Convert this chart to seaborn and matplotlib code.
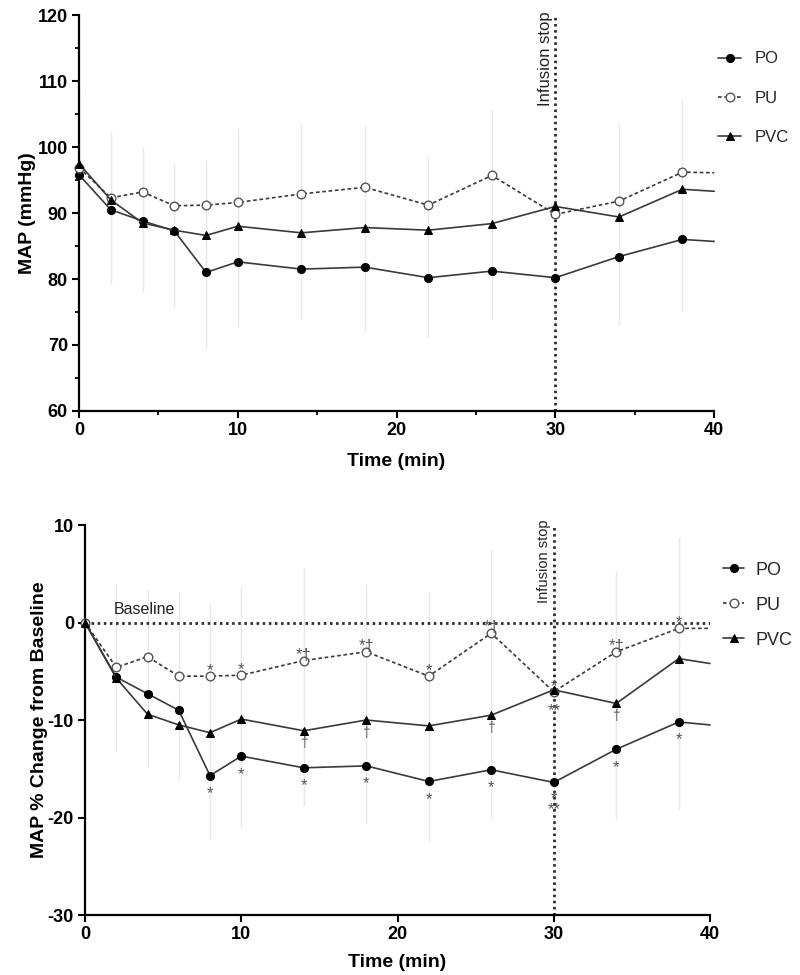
"""
MAP over time for PO / PU / PVC groups: absolute values and % change from baseline
"""

import numpy as np
import matplotlib
matplotlib.use('Agg')
import matplotlib.pyplot as plt
from matplotlib.ticker import MultipleLocator
import seaborn as sns

sns.set_style('ticks')
plt.rcParams['font.family'] = ['Liberation Sans', 'DejaVu Sans']
plt.rcParams['axes.unicode_minus'] = False

# ---- data ----
time = [0, 2, 4, 6, 8, 10, 14, 18, 22, 26, 30, 34, 38, 40]
n_marked = 13  # last point (40) only continues the line, no marker

map_po = [95.8, 90.5, 88.8, 87.3, 81.0, 82.6, 81.5, 81.8, 80.2, 81.2, 80.2, 83.4, 86.0, 85.7]
map_pu = [96.9, 92.3, 93.2, 91.1, 91.2, 91.6, 92.9, 93.9, 91.2, 95.7, 89.8, 91.8, 96.2, 96.1]
map_pvc = [97.5, 92.0, 88.5, 87.4, 86.6, 88.0, 87.0, 87.8, 87.4, 88.4, 91.0, 89.4, 93.6, 93.3]

# SD bars (outer ends of the grey whiskers)
err_time = [0, 2, 4, 6, 8, 10, 14, 18, 22, 26, 30, 34, 38]
map_err_hi = [108.5, 102.3, 100.0, 97.4, 98.0, 102.9, 103.7, 103.3, 98.6, 105.8, 102.0, 103.6, 107.1]
map_err_lo = [86.0, 79.3, 78.0, 75.7, 69.4, 72.8, 73.9, 72.0, 71.2, 73.8, 72.0, 72.9, 75.2]

pct_po = [0, -5.6, -7.3, -9.0, -15.7, -13.7, -14.9, -14.7, -16.3, -15.1, -16.4, -13.0, -10.2, -10.5]
pct_pu = [0, -4.6, -3.5, -5.5, -5.5, -5.4, -3.9, -3.0, -5.5, -1.1, -7.1, -3.0, -0.6, -0.6]
pct_pvc = [0, -5.7, -9.4, -10.5, -11.3, -9.9, -11.1, -10.0, -10.6, -9.5, -6.9, -8.3, -3.7, -4.2]

pct_err_time = [2, 4, 6, 8, 10, 14, 18, 22, 26, 30, 34, 38]
pct_err_hi = [4.0, 3.4, 3.1, 1.9, 3.7, 5.7, 4.0, 3.2, 7.5, 6.0, 5.3, 8.8]
pct_err_lo = [-13.3, -14.9, -16.1, -22.3, -21.0, -18.8, -20.7, -22.5, -20.2, -21.0, -20.1, -19.2]

# significance marks (time, symbol)
pu_marks = [(8, '*'), (10, '*'), (14, '*†'), (18, '*†'), (22, '*'), (26, '*†'),
            (30, '*'), (34, '*†'), (38, '*')]
pvc_daggers = [(14, '†'), (18, '†'), (26, '†'), (34, '†')]
pvc_stars = [(30, '**')]
po_marks = [(8, '*'), (10, '*'), (14, '*'), (18, '*'), (22, '*'), (26, '*'),
            (34, '*'), (38, '*')]
po_stacked = [(30, '*\n**')]

groups = ['PO', 'PU', 'PVC']
infusion_stop = 30

LINE_COL = '#3a3a3a'
styles = {
    'PO': dict(marker='o', markersize=5.8, markerfacecolor='black', markeredgecolor='black',
               linestyle='-'),
    'PU': dict(marker='o', markersize=6.2, markerfacecolor='white', markeredgecolor='#555555',
               markeredgewidth=1.0, linestyle=(0, (2.2, 1.6))),
    'PVC': dict(marker='^', markersize=5.5, markerfacecolor='black', markeredgecolor='black',
                linestyle='-'),
}


def draw_panel(ax, series, err_t, err_hi, err_lo):
    ax.vlines(err_t, err_lo, err_hi, color='#e8e8e8', linewidth=1.0, zorder=1)
    handles = []
    for name, vals in zip(groups, series):
        sns.lineplot(x=time, y=vals, ax=ax, color=LINE_COL, linewidth=1.2,
                     markevery=slice(0, n_marked), clip_on=False, zorder=3,
                     **styles[name])
        handles.append(ax.lines[-1])
    ax.axvline(infusion_stop, color='#2a2a2a', linewidth=2.0,
               linestyle=(0, (0.9, 1.3)), zorder=2)
    for s in ['top', 'right']:
        ax.spines[s].set_visible(False)
    for s in ['left', 'bottom']:
        ax.spines[s].set_linewidth(1.6)
        ax.spines[s].set_color('black')
    ax.tick_params(axis='both', which='major', length=5, width=1.5, labelsize=13,
                   color='black', labelcolor='black', pad=3)
    ax.tick_params(axis='both', which='minor', length=3, width=1.3, color='black')
    for lab in ax.get_xticklabels() + ax.get_yticklabels():
        lab.set_fontweight('bold')
    return handles


fig = plt.figure(figsize=(8, 9.75), dpi=100)

# ---- top panel: absolute MAP ----
ax1 = fig.add_axes([0.09875, 0.5785, 0.794, 0.406])
ax1.set_xlim(0, 40)
ax1.set_ylim(60, 120)
ax1.xaxis.set_major_locator(MultipleLocator(10))
ax1.xaxis.set_minor_locator(MultipleLocator(5))
ax1.yaxis.set_major_locator(MultipleLocator(10))
ax1.yaxis.set_minor_locator(MultipleLocator(5))
h1 = draw_panel(ax1, [map_po, map_pu, map_pvc], err_time, map_err_hi, map_err_lo)
ax1.set_xlabel('Time (min)', fontsize=14, fontweight='bold', labelpad=10, color='black')
ax1.set_ylabel('MAP (mmHg)', fontsize=14, fontweight='bold', labelpad=1, color='black')
ax1.text(infusion_stop - 0.15, 120.6, 'Infusion stop', rotation=90, ha='right', va='top',
         fontsize=12, color='#222222')
ax1.legend(h1, groups, loc='upper left', bbox_to_anchor=(0.996, 0.925), frameon=False,
           borderaxespad=0, fontsize=12, labelspacing=1.45, handlelength=1.35,
           handletextpad=0.8)

# ---- bottom panel: % change from baseline ----
ax2 = fig.add_axes([0.10625, 0.0615, 0.78125, 0.4])
ax2.set_xlim(0, 40)
ax2.set_ylim(-30, 10)
ax2.xaxis.set_major_locator(MultipleLocator(10))
ax2.yaxis.set_major_locator(MultipleLocator(10))
h2 = draw_panel(ax2, [pct_po, pct_pu, pct_pvc], pct_err_time, pct_err_hi, pct_err_lo)
ax2.axhline(0, color='#2a2a2a', linewidth=2.0, linestyle=(0, (0.9, 1.3)), zorder=2)
ax2.text(1.85, 0.6, 'Baseline', ha='left', va='bottom', fontsize=11.5, color='#222222')
ax2.set_xlabel('Time (min)', fontsize=14, fontweight='bold', labelpad=8, color='black')
ax2.set_ylabel('MAP % Change from Baseline', fontsize=14, fontweight='bold', labelpad=0,
               color='black')
ax2.text(infusion_stop - 0.2, 10.6, 'Infusion stop', rotation=90, ha='right', va='top',
         fontsize=10.5, color='#222222')
ax2.legend(h2, groups, loc='upper left', bbox_to_anchor=(1.01, 0.925), frameon=False,
           borderaxespad=0, fontsize=13, labelspacing=1.0, handlelength=1.15,
           handletextpad=0.65)

# significance marks
mark_kw = dict(textcoords='offset points', ha='center', color='#555555', zorder=4)
pu_lookup = dict(zip(time, pct_pu))
pvc_lookup = dict(zip(time, pct_pvc))
po_lookup = dict(zip(time, pct_po))
for t, s in pu_marks:
    ax2.annotate(s, (t, pu_lookup[t]), xytext=(0, 4), va='center', fontsize=12, **mark_kw)
for t, s in pvc_daggers:
    ax2.annotate(s, (t, pvc_lookup[t]), xytext=(0, -9), va='center', fontsize=10, **mark_kw)
for t, s in pvc_stars:
    ax2.annotate(s, (t, pvc_lookup[t]), xytext=(0, -15), va='center', fontsize=12, **mark_kw)
for t, s in po_marks:
    ax2.annotate(s, (t, po_lookup[t]), xytext=(0, -13), va='center', fontsize=12, **mark_kw)
for t, s in po_stacked:
    ax2.annotate(s, (t, po_lookup[t]), xytext=(0, -6), va='top', fontsize=12,
                 linespacing=0.7, **mark_kw)

fig.savefig('out.png', dpi=100)
